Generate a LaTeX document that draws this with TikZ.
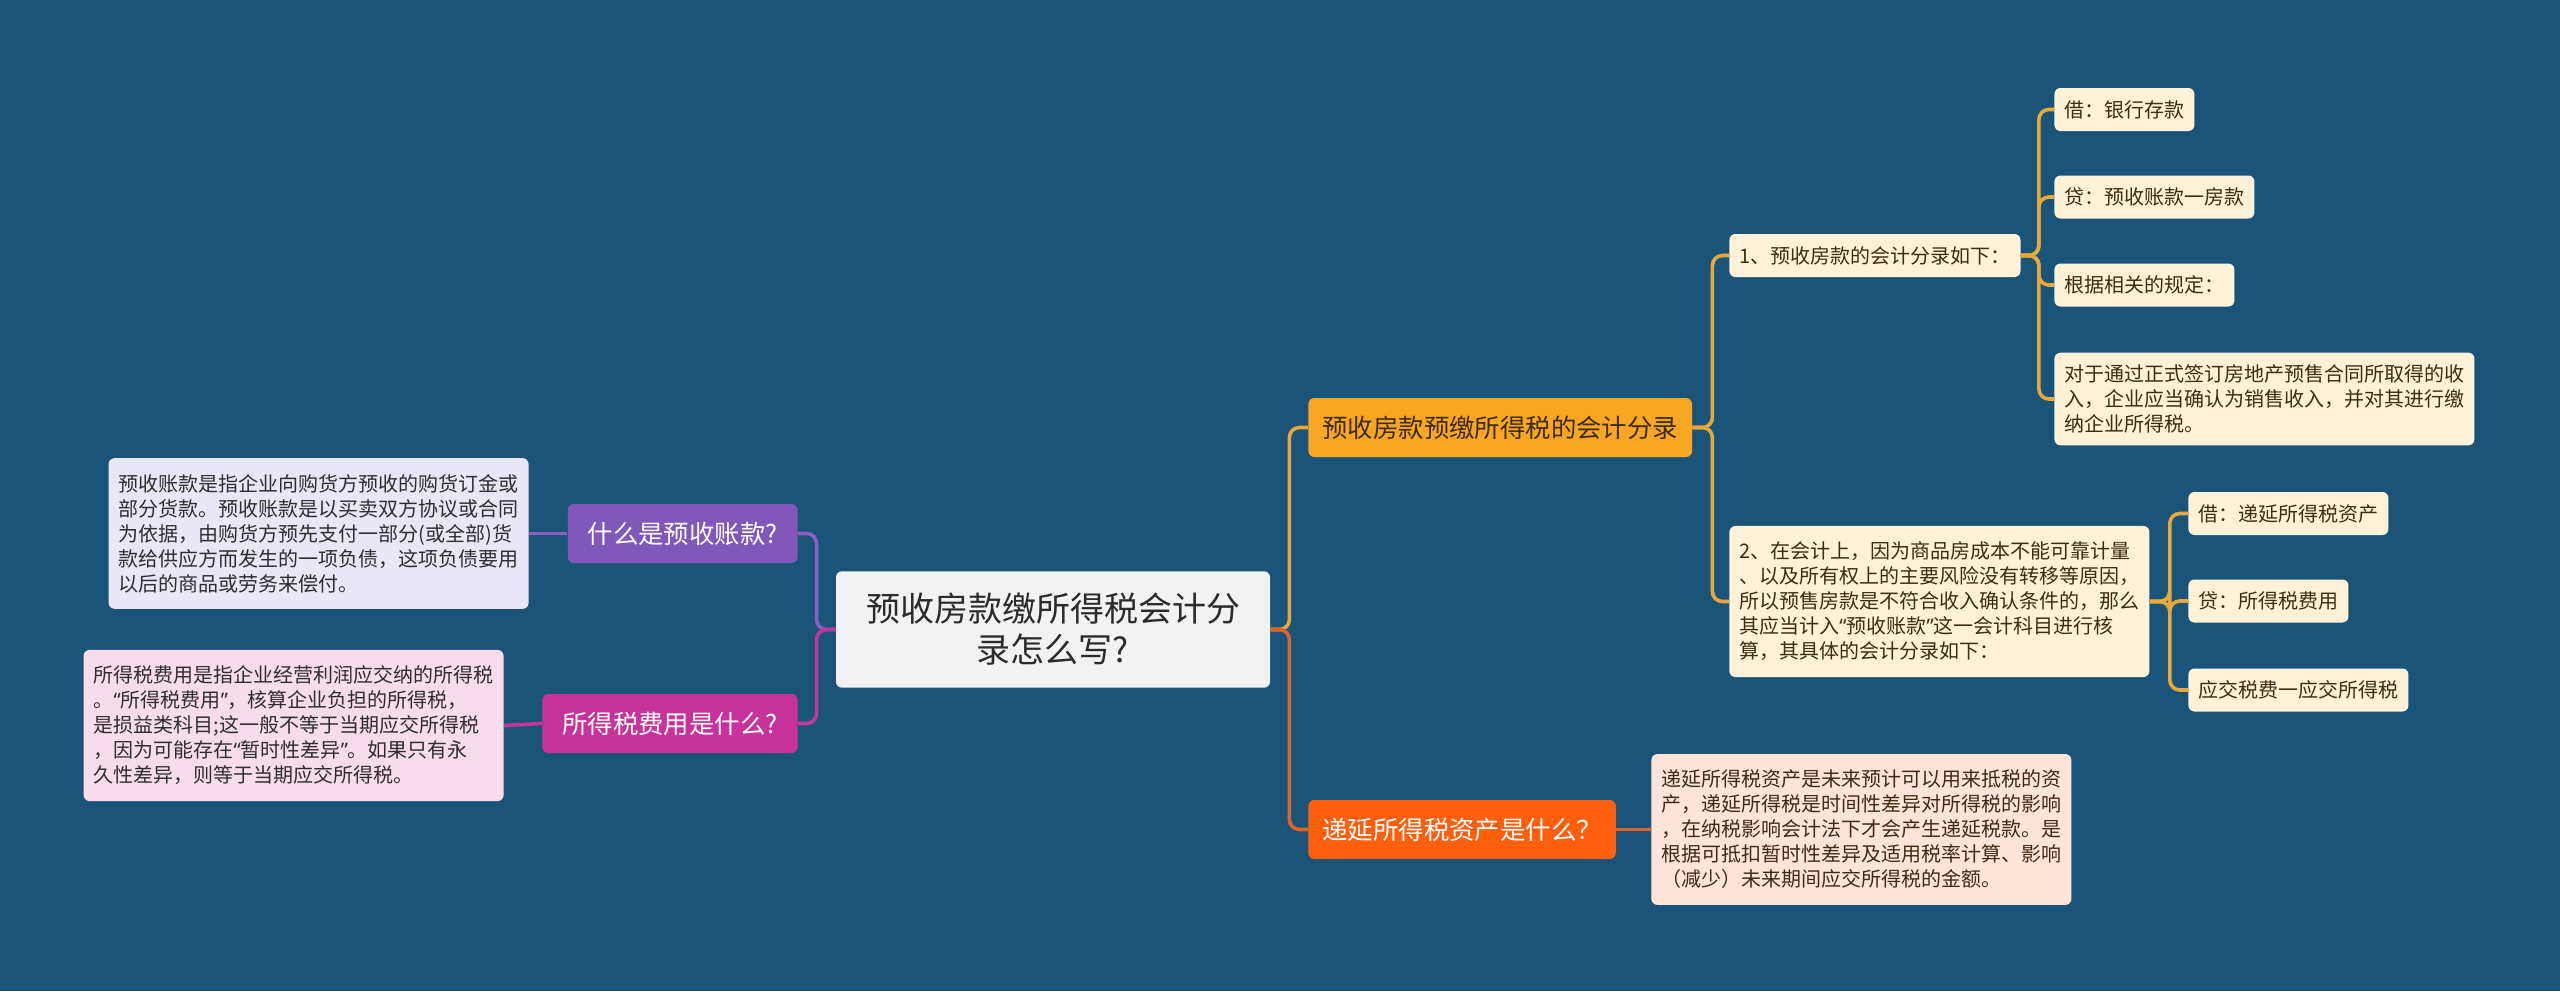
\documentclass[tikz,border=0pt]{standalone}
\usepackage{fontspec}
\setmainfont{Noto Sans CJK SC}
\newfontfamily\quotefont{Noto Sans}
\newcommand{\qopen}{{\quotefont “}}
\newcommand{\qclose}{{\quotefont ”}}
\usetikzlibrary{positioning,calc}

\definecolor{bgblue}{HTML}{1A5478}
\definecolor{rootfill}{HTML}{F2F2F2}
\definecolor{rootink}{HTML}{2B2B2B}
\definecolor{ambfill}{HTML}{F9A623}
\definecolor{ambline}{HTML}{E9A83A}
\definecolor{redfill}{HTML}{FF5E0C}
\definecolor{redline}{HTML}{E0632B}
\definecolor{purfill}{HTML}{8157BA}
\definecolor{purline}{HTML}{8A5EC2}
\definecolor{magfill}{HTML}{C8339B}
\definecolor{magline}{HTML}{C2379E}
\definecolor{creamfill}{HTML}{FFF2D8}
\definecolor{peachfill}{HTML}{FFE5D8}
\definecolor{lilacfill}{HTML}{E9E6F5}
\definecolor{pinkfill}{HTML}{F8DCEB}
\definecolor{brownink}{HTML}{3E2C12}
\definecolor{greyink}{HTML}{2E2E2E}

\tikzset{
  box/.style={rounded corners=3pt, inner xsep=5pt, inner ysep=6pt, align=left,
    font=\fontsize{10}{12.5}\selectfont},
  rootbox/.style={box, fill=rootfill, text=rootink, align=center,
    inner xsep=15pt, inner ysep=11pt, font=\fontsize{17}{20.5}\selectfont},
  mainbox/.style={box, minimum height=29.5pt, inner xsep=7pt,
    font=\fontsize{12.7}{15}\selectfont},
  leafbox/.style={box, fill=creamfill, text=brownink, minimum height=21.5pt},
  link/.style={line width=1.8pt, rounded corners=5pt}
}

\begin{document}
\begin{tikzpicture}[x=0.5pt,y=-0.5pt]
  \fill[bgblue] (0,0) rectangle (2560,991);
  \useasboundingbox (0,0) rectangle (2560,991);

  % centre
  \node[rootbox] (root) at (1053,629.5) {预收房款缴所得税会计分\\录怎么写?};

  % right side
  \node[mainbox, fill=ambfill, text=brownink, anchor=west] (acct) at (1308,427.5) {预收房款预缴所得税的会计分录};
  \node[mainbox, fill=redfill, text=white, anchor=west] (dta) at (1308,829.5) {递延所得税资产是什么？};

  \node[leafbox, anchor=west] (step1) at (1729,255.5) {1、预收房款的会计分录如下：};
  \node[leafbox, anchor=west, inner ysep=8pt] (step2) at (1729,601.5) {2、在会计上，因为商品房成本不能可靠计量\\、以及所有权上的主要风险没有转移等原因，\\所以预售房款是不符合收入确认条件的，那么\\其应当计入\qopen 预收账款\qclose 这一会计科目进行核\\算，其具体的会计分录如下：};

  \node[leafbox, anchor=west] (dr1) at (2054,109.5) {借：银行存款};
  \node[leafbox, anchor=west] (cr1) at (2054,197) {贷：预收账款一房款};
  \node[leafbox, anchor=west] (rule) at (2054,285) {根据相关的规定：};
  \node[leafbox, anchor=west] (rev) at (2054,399) {对于通过正式签订房地产预售合同所取得的收\\入，企业应当确认为销售收入，并对其进行缴\\纳企业所得税。};

  \node[leafbox, anchor=west] (dr2) at (2188,513.5) {借：递延所得税资产};
  \node[leafbox, anchor=west] (cr2) at (2188,601) {贷：所得税费用};
  \node[leafbox, anchor=west] (tax) at (2188,690) {应交税费一应交所得税};

  \node[box, fill=peachfill, text=brownink, anchor=west, inner ysep=8pt] (dtainfo) at (1651,829.5) {递延所得税资产是未来预计可以用来抵税的资\\产，递延所得税是时间性差异对所得税的影响\\，在纳税影响会计法下才会产生递延税款。是\\根据可抵扣暂时性差异及适用税率计算、影响\\（减少）未来期间应交所得税的金额。};

  % left side
  \node[mainbox, fill=purfill, text=white, anchor=east, inner xsep=10pt] (adv) at (798,533.5) {什么是预收账款?};
  \node[mainbox, fill=magfill, text=white, anchor=east, inner xsep=10pt] (exp) at (798,723.5) {所得税费用是什么?};

  \node[box, fill=lilacfill, text=greyink, anchor=east, inner ysep=8pt] (advinfo) at (529,533.5) {预收账款是指企业向购货方预收的购货订金或\\部分货款。预收账款是以买卖双方协议或合同\\为依据，由购货方预先支付一部分(或全部)货\\款给供应方而发生的一项负债，这项负债要用\\以后的商品或劳务来偿付。};
  \node[box, fill=pinkfill, text=greyink, anchor=east, inner ysep=8pt] (expinfo) at (504,725.5) {所得税费用是指企业经营利润应交纳的所得税\\。\qopen 所得税费用\qclose ，核算企业负担的所得税，\\是损益类科目;这一般不等于当期应交所得税\\，因为可能存在\qopen 暂时性差异\qclose 。如果只有永\\久性差异，则等于当期应交所得税。};

  % connectors
  \draw[link, ambline] (root.east) -- ++(19,0) |- (acct.west);
  \draw[link, redline] (root.east) -- ++(19,0) |- (dta.west);
  \draw[link, purline] (root.west) -- ++(-19,0) |- (adv.east);
  \draw[link, magline] (root.west) -- ++(-19,0) |- (exp.east);

  \draw[link, ambline] (acct.east) -- ++(20,0) |- (step1.west);
  \draw[link, ambline] (acct.east) -- ++(20,0) |- (step2.west);
  \foreach \leaf in {dr1,cr1,rule,rev}
    \draw[link, ambline] (step1.east) -- ++(18,0) |- (\leaf.west);
  \foreach \leaf in {dr2,cr2,tax}
    \draw[link, ambline] (step2.east) -- ++(20,0) |- (\leaf.west);

  \draw[link, redline] (dta.east) -- (dtainfo.west);
  \draw[link, purline] (adv.west) -- (advinfo.east);
  \draw[link, magline] (exp.west) -- (expinfo.east);
\end{tikzpicture}
\end{document}
